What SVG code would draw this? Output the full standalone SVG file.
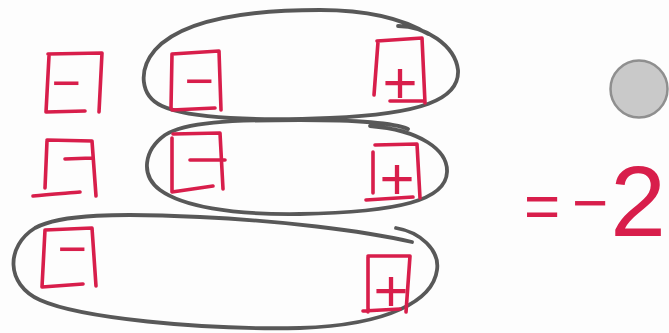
<svg xmlns="http://www.w3.org/2000/svg" width="669" height="333" viewBox="0 0 669 333">
<style>
.tile{fill:none;stroke:#d81e4b;stroke-width:3.6;stroke-linecap:round;stroke-linejoin:round}
.sign{fill:#d81e4b;font-family:"Liberation Sans",Arial,sans-serif;font-size:50px;text-anchor:middle}
.plus{font-size:60px}
.loop{fill:none;stroke:#585858;stroke-width:3.8;stroke-linecap:round;stroke-linejoin:round}
.eq{fill:#d81e4b;font-family:"Liberation Sans",Arial,sans-serif;text-anchor:middle}
</style>
<rect width="669" height="333" fill="#fdfdfd"/>
<g id="connectors">
<path class="loop" d="M398,26 C425,26 455,45 458,70 C460,100 420,114 330,118 C260,121 190,119 162,106 C140,96 138,70 155,50 C180,22 240,10 320,10 C372,10 405,20 428,34"/>
<path class="loop" d="M370,126 C420,130 448,150 447,172 C446,200 400,212 300,214 C230,215 182,206 160,190 C140,175 144,150 165,135 C185,122 230,120 300,120 C355,120 392,122 408,129"/>
<path class="loop" d="M396,228 C420,232 440,250 437,270 C433,300 390,325 300,328 C200,330 80,318 40,300 C5,284 6,246 35,228 C60,214 120,213 200,217 C280,221 360,230 412,242"/>
</g>
<g id="tile-a"><path class="tile" d="M49,56 L46,112 L85,111 M48,54 L102,53 L99,112"/><text class="sign" x="66" y="100">−</text></g>
<g id="tile-b"><path class="tile" d="M47,141 L45,188 M47,140 L92,141 L96,196 M33,196 C50,194 70,193 80,192 M65,159 L92,158"/></g>
<g id="tile-c"><path class="tile" d="M45,230 L42,287 L83,284 M45,230 L92,228 L96,286"/><text class="sign" x="72" y="266">−</text></g>
<g id="tile-d"><path class="tile" d="M172,54 L171,108 M172,54 L219,51 L221,110 M172,110 L215,108"/><text class="sign" x="199" y="98">−</text></g>
<g id="tile-e"><path class="tile" d="M172,138 L172,192 L213,186 M173,134 L220,133 L223,189 M190,160 L225,160"/></g>
<g id="tile-f"><path class="tile" d="M378,42 L374,95 M377,41 L422,38 L425,103 M390,101 L425,101"/><text class="sign plus" x="400" y="103">+</text></g>
<g id="tile-g"><path class="tile" d="M375,145 L417,144 L420,198 M373,152 L373,193 M366,200 L413,197"/><text class="sign plus" x="397" y="199">+</text></g>
<g id="tile-h"><path class="tile" d="M368,257 L368,312 M368,256 L410,256 L406,312 M363,311 L400,309"/><text class="sign plus" x="391" y="311">+</text></g>
<g id="result"><text class="eq"><tspan x="542" y="227" font-size="62">=</tspan><tspan x="590" y="224" font-size="62">−</tspan><tspan x="638" y="236" font-size="100">2</tspan></text></g>
<g id="counter"><circle cx="639" cy="89" r="28.5" fill="#c9c9c9" stroke="#8f8f8f" stroke-width="2.5"/></g>
</svg>
